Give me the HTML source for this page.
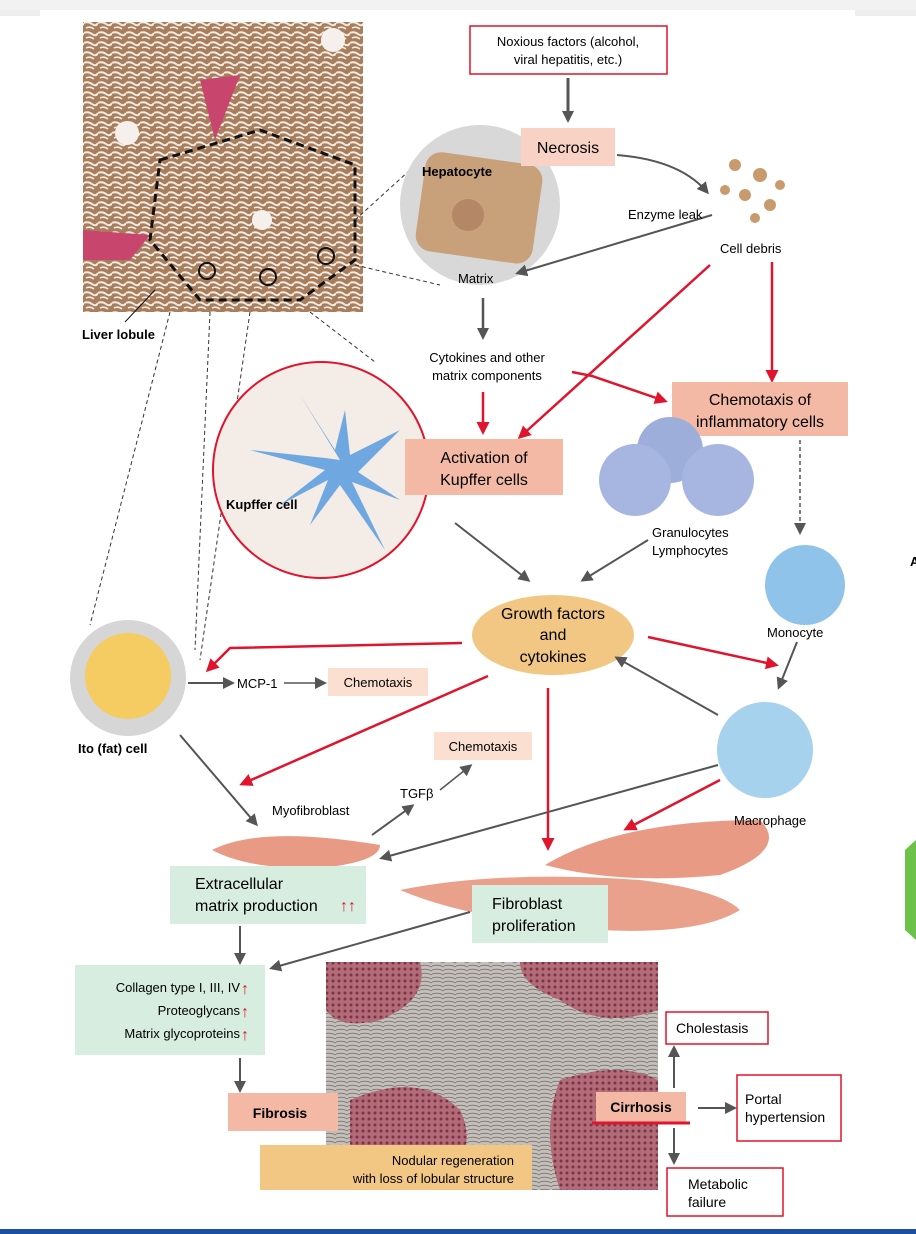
<!DOCTYPE html>
<html><head><meta charset="utf-8"><style>
body{margin:0;background:#fff;}
svg{display:block;font-family:"Liberation Sans",sans-serif;}
</style></head><body>
<svg width="916" height="1234" viewBox="0 0 916 1234" xmlns="http://www.w3.org/2000/svg">
<defs>
<pattern id="liv" width="14" height="10" patternUnits="userSpaceOnUse">
<rect width="14" height="10" fill="#a87e5c"/>
<path d="M0 3 Q4 1 8 4 T14 3" stroke="#f3ece4" stroke-width="2" fill="none"/>
<path d="M2 8 Q6 6 10 9" stroke="#f3ece4" stroke-width="1.6" fill="none"/>
</pattern>
<pattern id="fib" width="12" height="8" patternUnits="userSpaceOnUse">
<rect width="12" height="8" fill="#c4bfbb"/>
<path d="M0 2 Q6 0 12 3 M0 6 Q6 4 12 7" stroke="#7a7470" stroke-width="0.9" fill="none"/>
</pattern>
<pattern id="nod" width="6" height="6" patternUnits="userSpaceOnUse">
<rect width="6" height="6" fill="#b26b78"/>
<circle cx="3" cy="3" r="1.5" fill="#7d3344"/>
</pattern>
<marker id="ag" markerWidth="12" markerHeight="12" refX="9" refY="6" orient="auto" markerUnits="userSpaceOnUse"><path d="M0 0L12 6L0 12z" fill="#555"/></marker>
<marker id="ar" markerWidth="13" markerHeight="13" refX="10" refY="6.5" orient="auto" markerUnits="userSpaceOnUse"><path d="M0 0L13 6.5L0 13z" fill="#e0142c"/></marker>
</defs>
<rect x="0" y="0" width="916" height="10" fill="#f2f2f2"/>
<rect x="0" y="10" width="40" height="6" fill="#eee"/>
<rect x="855" y="10" width="61" height="6" fill="#eee"/>
<rect x="0" y="1229" width="916" height="5" fill="#1d4fa0"/>

<!-- liver lobule -->
<rect x="83" y="22" width="280" height="290" fill="url(#liv)"/>
<circle cx="127" cy="133" r="12" fill="#f6f0ec"/><circle cx="333" cy="40" r="12" fill="#f6f0ec"/><circle cx="262" cy="220" r="10" fill="#f6f0ec"/>
<path d="M200 80 L240 75 L215 140z" fill="#c8456e"/><path d="M83 230 L150 235 L130 260 L83 260z" fill="#c8456e"/>
<path d="M160 160 L260 130 L355 165 L355 260 L300 300 L200 300 L150 240z" fill="none" stroke="#111" stroke-width="3" stroke-dasharray="8,5"/>
<circle cx="207" cy="271" r="8" fill="none" stroke="#111" stroke-width="2"/><circle cx="268" cy="277" r="8" fill="none" stroke="#111" stroke-width="2"/><circle cx="326" cy="256" r="8" fill="none" stroke="#111" stroke-width="2"/>
<line x1="155" y1="290" x2="125" y2="322" stroke="#111"/>
<text x="82" y="339" font-size="13" font-weight="bold">Liver lobule</text>
<g stroke="#333" stroke-dasharray="4,3" fill="none">
<line x1="355" y1="220" x2="410" y2="170"/><line x1="355" y1="265" x2="440" y2="285"/>
<line x1="310" y1="312" x2="375" y2="362"/>
<line x1="170" y1="312" x2="90" y2="625"/><line x1="210" y1="312" x2="195" y2="650"/><line x1="250" y1="312" x2="200" y2="660"/>
</g>

<!-- noxious -->
<rect x="470" y="26" width="197" height="48" fill="#fff" stroke="#e0142c" stroke-width="1.5"/>
<text x="568" y="46" font-size="13" text-anchor="middle">Noxious factors (alcohol,</text>
<text x="568" y="64" font-size="13" text-anchor="middle">viral hepatitis, etc.)</text>
<line x1="568" y1="78" x2="568" y2="120" stroke="#555" stroke-width="3" marker-end="url(#ag)"/>

<!-- hepatocyte -->
<circle cx="480" cy="205" r="80" fill="#d8d8d8"/>
<rect x="420" y="158" width="118" height="100" rx="16" fill="#c8a07a" transform="rotate(8 480 208)"/>
<circle cx="468" cy="215" r="16" fill="#b48866"/>
<text x="422" y="176" font-size="13" font-weight="bold">Hepatocyte</text>
<text x="458" y="283" font-size="13">Matrix</text>

<rect x="521" y="128" width="94" height="38" fill="#f8d3c5"/>
<text x="568" y="153" font-size="16" text-anchor="middle">Necrosis</text>
<path d="M617 155 Q680 160 707 192" stroke="#555" stroke-width="2" fill="none" marker-end="url(#ag)"/>
<path d="M712 215 L518 273" stroke="#555" stroke-width="2" marker-end="url(#ag)"/>
<text x="628" y="219" font-size="13">Enzyme leak</text>
<g fill="#c89a6e"><circle cx="735" cy="165" r="6"/><circle cx="760" cy="175" r="7"/><circle cx="745" cy="195" r="6"/><circle cx="770" cy="205" r="6"/><circle cx="725" cy="190" r="5"/><circle cx="755" cy="218" r="5"/><circle cx="780" cy="185" r="5"/></g>
<text x="720" y="253" font-size="13">Cell debris</text>

<line x1="483" y1="298" x2="483" y2="337" stroke="#555" stroke-width="2.5" marker-end="url(#ag)"/>
<text x="487" y="362" font-size="13" text-anchor="middle">Cytokines and other</text>
<text x="487" y="380" font-size="13" text-anchor="middle">matrix components</text>
<line x1="483" y1="392" x2="483" y2="432" stroke="#e0142c" stroke-width="2.5" marker-end="url(#ar)"/>
<path d="M572 372 L592 376 L665 401" stroke="#e0142c" stroke-width="2.5" fill="none" marker-end="url(#ar)"/>
<line x1="710" y1="265" x2="520" y2="437" stroke="#e0142c" stroke-width="2.5" marker-end="url(#ar)"/>
<line x1="772" y1="262" x2="772" y2="380" stroke="#e0142c" stroke-width="2.5" marker-end="url(#ar)"/>

<rect x="672" y="382" width="176" height="54" fill="#f4b9a4"/>
<text x="760" y="405" font-size="16" text-anchor="middle">Chemotaxis of</text>
<text x="760" y="427" font-size="16" text-anchor="middle">inflammatory cells</text>
<line x1="800" y1="440" x2="800" y2="532" stroke="#555" stroke-width="1.5" stroke-dasharray="4,3" marker-end="url(#ag)"/>

<!-- Kupffer -->
<circle cx="321" cy="470" r="108" fill="#f4ece6" stroke="#e0142c" stroke-width="2"/>
<path d="M340 460 L300 395 L335 450 L345 410 L350 455 L400 430 L358 472 L400 500 L352 482 L385 550 L340 485 L310 525 L328 480 L280 505 L325 470 L250 450 L325 458z" fill="#6fa8e0"/>
<text x="226" y="509" font-size="13" font-weight="bold">Kupffer cell</text>

<rect x="405" y="439" width="158" height="56" fill="#f4b9a4"/>
<text x="484" y="463" font-size="16" text-anchor="middle">Activation of</text>
<text x="484" y="485" font-size="16" text-anchor="middle">Kupffer cells</text>

<!-- granulocytes -->
<circle cx="670" cy="450" r="33" fill="#9eaedb"/><circle cx="635" cy="480" r="36" fill="#a7b6e0"/><circle cx="718" cy="480" r="36" fill="#a7b6e0"/>
<text x="652" y="537" font-size="13">Granulocytes</text>
<text x="652" y="555" font-size="13">Lymphocytes</text>
<circle cx="805" cy="585" r="40" fill="#8fc3ea"/>
<text x="767" y="637" font-size="13">Monocyte</text>

<line x1="455" y1="523" x2="528" y2="580" stroke="#555" stroke-width="2" marker-end="url(#ag)"/>
<line x1="648" y1="540" x2="583" y2="580" stroke="#555" stroke-width="2" marker-end="url(#ag)"/>

<ellipse cx="553" cy="635" rx="81" ry="40" fill="#f2c784"/>
<text x="553" y="619" font-size="16" text-anchor="middle">Growth factors</text>
<text x="553" y="640" font-size="16" text-anchor="middle">and</text>
<text x="553" y="662" font-size="16" text-anchor="middle">cytokines</text>

<path d="M462 643 L230 648 L208 670" stroke="#e0142c" stroke-width="2.5" fill="none" marker-end="url(#ar)"/>
<line x1="648" y1="637" x2="776" y2="665" stroke="#e0142c" stroke-width="2.5" marker-end="url(#ar)"/>
<line x1="488" y1="676" x2="242" y2="784" stroke="#e0142c" stroke-width="2.5" marker-end="url(#ar)"/>
<line x1="548" y1="688" x2="548" y2="848" stroke="#e0142c" stroke-width="2.5" marker-end="url(#ar)"/>
<line x1="797" y1="642" x2="779" y2="687" stroke="#555" stroke-width="2" marker-end="url(#ag)"/>
<line x1="718" y1="715" x2="617" y2="658" stroke="#555" stroke-width="2" marker-end="url(#ag)"/>

<!-- macrophage -->
<circle cx="765" cy="750" r="48" fill="#a6d2ee"/>

<!-- fibroblasts -->
<path d="M545 865 Q620 820 760 820 Q790 850 720 875 Q620 885 545 865z" fill="#e99a84"/>
<path d="M400 890 Q500 870 640 880 Q720 890 740 910 Q700 935 600 930 Q470 920 400 890z" fill="#eaa18c"/>
<text x="734" y="825" font-size="13">Macrophage</text>
<line x1="718" y1="765" x2="382" y2="858" stroke="#555" stroke-width="2" marker-end="url(#ag)"/>
<line x1="720" y1="780" x2="626" y2="829" stroke="#e0142c" stroke-width="2.5" marker-end="url(#ar)"/>

<!-- Ito -->
<circle cx="128" cy="678" r="58" fill="#d6d6d6"/>
<circle cx="128" cy="676" r="43" fill="#f4cc62"/>
<text x="78" y="753" font-size="13" font-weight="bold">Ito (fat) cell</text>
<line x1="188" y1="683" x2="232" y2="683" stroke="#555" stroke-width="2" marker-end="url(#ag)"/>
<text x="237" y="688" font-size="13">MCP-1</text>
<line x1="284" y1="683" x2="324" y2="683" stroke="#555" stroke-width="1.5" marker-end="url(#ag)"/>
<rect x="328" y="668" width="100" height="28" fill="#fbe0d2"/>
<text x="378" y="687" font-size="13" text-anchor="middle">Chemotaxis</text>
<line x1="180" y1="735" x2="256" y2="824" stroke="#555" stroke-width="2" marker-end="url(#ag)"/>

<!-- myofibroblast -->
<text x="272" y="815" font-size="13">Myofibroblast</text>
<path d="M212 850 Q260 825 380 845 Q380 862 320 868 Q250 870 212 850z" fill="#e99a84"/>
<line x1="372" y1="835" x2="412" y2="806" stroke="#555" stroke-width="2" marker-end="url(#ag)"/>
<text x="400" y="798" font-size="13">TGFβ</text>
<line x1="440" y1="790" x2="470" y2="766" stroke="#555" stroke-width="1.5" marker-end="url(#ag)"/>
<rect x="434" y="732" width="98" height="28" fill="#fbe0d2"/>
<text x="483" y="751" font-size="13" text-anchor="middle">Chemotaxis</text>

<rect x="170" y="866" width="196" height="58" fill="#d7ede0"/>
<text x="195" y="889" font-size="16">Extracellular</text>
<text x="195" y="911" font-size="16">matrix production</text>
<text x="340" y="911" font-size="16" fill="#e0142c" font-weight="bold">↑↑</text>
<rect x="472" y="885" width="136" height="58" fill="#d7ede0"/>
<text x="492" y="909" font-size="16">Fibroblast</text>
<text x="492" y="931" font-size="16">proliferation</text>
<line x1="470" y1="912" x2="272" y2="968" stroke="#555" stroke-width="2" marker-end="url(#ag)"/>
<line x1="240" y1="926" x2="240" y2="962" stroke="#555" stroke-width="2" marker-end="url(#ag)"/>

<rect x="75" y="965" width="190" height="90" fill="#d7ede0"/>
<text x="240" y="992" font-size="13" text-anchor="end">Collagen type I, III, IV</text>
<text x="240" y="1015" font-size="13" text-anchor="end">Proteoglycans</text>
<text x="240" y="1038" font-size="13" text-anchor="end">Matrix glycoproteins</text>
<g fill="#e0142c" font-size="16" font-weight="bold"><text x="241" y="994">↑</text><text x="241" y="1017">↑</text><text x="241" y="1040">↑</text></g>
<line x1="240" y1="1058" x2="240" y2="1090" stroke="#555" stroke-width="2" marker-end="url(#ag)"/>

<!-- micrograph -->
<rect x="326" y="962" width="332" height="228" fill="url(#fib)"/>
<path d="M326 962 L420 962 Q430 1000 380 1020 Q340 1030 326 1010z" fill="url(#nod)"/>
<path d="M520 962 L658 962 L658 1010 Q600 1030 560 1000 Q520 985 520 962z" fill="url(#nod)"/>
<path d="M350 1100 Q420 1070 460 1110 Q480 1150 440 1190 L350 1190z" fill="url(#nod)"/>
<path d="M560 1080 Q620 1060 658 1080 L658 1190 L560 1190 Q540 1130 560 1080z" fill="url(#nod)"/>
<rect x="228" y="1093" width="110" height="38" fill="#f4b9a4"/>
<text x="280" y="1118" font-size="14" font-weight="bold" text-anchor="middle">Fibrosis</text>
<rect x="260" y="1145" width="272" height="45" fill="#f2c784"/>
<text x="514" y="1165" font-size="13" text-anchor="end">Nodular regeneration</text>
<text x="514" y="1183" font-size="13" text-anchor="end">with loss of lobular structure</text>

<rect x="596" y="1092" width="90" height="30" fill="#f4b9a4"/>
<line x1="592" y1="1123" x2="690" y2="1123" stroke="#e0142c" stroke-width="3"/>
<text x="641" y="1112" font-size="14" font-weight="bold" text-anchor="middle">Cirrhosis</text>
<line x1="674" y1="1088" x2="674" y2="1048" stroke="#555" stroke-width="2" marker-end="url(#ag)"/>
<line x1="674" y1="1128" x2="674" y2="1162" stroke="#555" stroke-width="2" marker-end="url(#ag)"/>
<line x1="698" y1="1108" x2="734" y2="1108" stroke="#555" stroke-width="2" marker-end="url(#ag)"/>
<rect x="666" y="1012" width="102" height="32" fill="#fff" stroke="#e0142c" stroke-width="1.5"/>
<text x="676" y="1033" font-size="14">Cholestasis</text>
<rect x="737" y="1075" width="104" height="66" fill="#fff" stroke="#e0142c" stroke-width="1.5"/>
<text x="745" y="1104" font-size="14">Portal</text>
<text x="745" y="1122" font-size="14">hypertension</text>
<rect x="667" y="1168" width="116" height="48" fill="#fff" stroke="#e0142c" stroke-width="1.5"/>
<text x="688" y="1189" font-size="14">Metabolic</text>
<text x="688" y="1207" font-size="14">failure</text>

<text x="910" y="566" font-size="13" font-weight="bold">A</text>
<path d="M916 840 L905 850 L905 930 L916 940z" fill="#6cc24a"/>
</svg>
</body></html>
